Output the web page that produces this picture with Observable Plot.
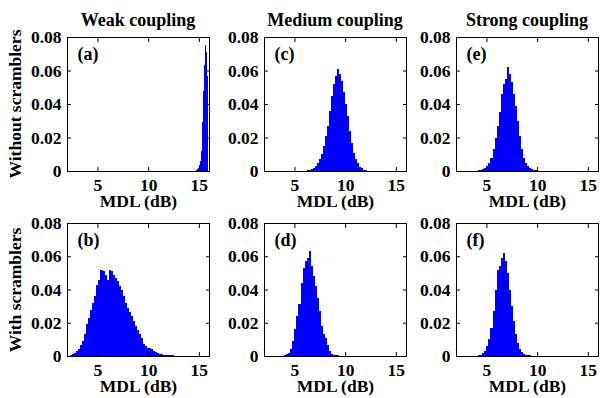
<!DOCTYPE html>
<html>
<head>
<meta charset="utf-8">
<script src="https://cdn.jsdelivr.net/npm/d3@7"></script>
<script src="https://cdn.jsdelivr.net/npm/@observablehq/plot@0.6"></script>
<style>
  html, body { margin: 0; padding: 0; background: #fff; }
  #chart { position: relative; width: 600px; height: 398px; overflow: hidden;
           font-family: "Liberation Serif", "Times New Roman", serif; font-weight: bold; color: #000; }
  .coltitle { position: absolute; text-align: center; font-size: 18px; line-height: 18px; white-space: nowrap; }
  .rowtitle { position: absolute; font-size: 17.5px; line-height: 18px; white-space: nowrap;
              transform: translate(-50%, -50%) rotate(-90deg); }
  #chart svg { position: absolute; }
</style>
</head>
<body>
<div id="chart"></div>
<script>
// ---------- data ----------
const columnTitles = ["Weak coupling", "Medium coupling", "Strong coupling"];
const rowTitles = ["Without scramblers", "With scramblers"];
const panelLetters = ["(a)", "(b)", "(c)", "(d)", "(e)", "(f)"];
const xLabel = "MDL (dB)";
const xTicks = [5, 10, 15];
const yTicks = [0, 0.02, 0.04, 0.06, 0.08];
const xDomain = [2, 16];
const yDomain = [0, 0.08];

// (a) weak coupling, without scramblers — bin edges (dB) and probabilities
const edgesA = [14.7, 14.8, 14.9, 15.0, 15.1, 15.2, 15.3, 15.4, 15.5, 15.6, 15.7, 15.8, 15.9];
const probA = [0.0005, 0.001, 0.002, 0.0035, 0.006, 0.012, 0.029, 0.048, 0.063, 0.075, 0.071, 0.057];

// (b) weak coupling, with scramblers
const edgesB = [2.3, 2.5, 2.7, 2.9, 3.1, 3.3, 3.5, 3.7, 3.9, 4.1, 4.3, 4.5, 4.7, 4.9, 5.1, 5.3, 5.5, 5.7, 5.9,
  6.1, 6.3, 6.5, 6.7, 6.9, 7.1, 7.3, 7.5, 7.7, 7.9, 8.1, 8.3, 8.5, 8.7, 8.9, 9.1, 9.3, 9.5, 9.7, 9.9, 10.1,
  10.3, 10.5, 10.7, 10.9, 11.1, 11.3, 11.5, 11.7, 11.9, 12.1, 12.3, 12.5, 12.7, 12.9, 13.1];
const probB = [0.0006, 0.001, 0.0018, 0.0028, 0.0044, 0.0068, 0.0089, 0.0135, 0.019, 0.023,
  0.0276, 0.032, 0.036, 0.043, 0.0457, 0.052, 0.051, 0.049, 0.046, 0.052,
  0.0514, 0.049, 0.047, 0.045, 0.042, 0.040, 0.036, 0.032, 0.029, 0.0266,
  0.024, 0.021, 0.018, 0.0155, 0.013, 0.011, 0.0075, 0.0058, 0.005, 0.0046,
  0.004, 0.003, 0.0024, 0.0018, 0.0014, 0.001, 0.0008, 0.0008, 0.0006, 0.0005,
  0.0004, 0.0003, 0.0002, 0.0001];

// (c) medium coupling, without scramblers
const edgesC = [6.2, 6.4, 6.6, 6.8, 7.0, 7.2, 7.4, 7.6, 7.8, 8.0, 8.2, 8.4, 8.6, 8.8, 9.0, 9.2, 9.4, 9.6,
  9.8, 10.0, 10.2, 10.4, 10.6, 10.8, 11.0, 11.2, 11.4, 11.6, 11.8, 12.0, 12.2, 12.4];
const probC = [0.0003, 0.0005, 0.001, 0.0015, 0.003, 0.0045, 0.007, 0.010, 0.015, 0.021, 0.027, 0.036,
  0.045, 0.052, 0.057, 0.061, 0.058, 0.054, 0.047, 0.040, 0.033, 0.024, 0.017, 0.011, 0.007, 0.0045,
  0.0025, 0.0015, 0.0008, 0.0004, 0.0002];

// (d) medium coupling, with scramblers
const edgesD = [3.6, 3.8, 4.0, 4.2, 4.4, 4.6, 4.8, 5.0, 5.2, 5.4, 5.6, 5.8, 6.0, 6.2, 6.4, 6.6, 6.8, 7.0,
  7.2, 7.4, 7.6, 7.8, 8.0, 8.2, 8.4, 8.6, 8.8, 9.0, 9.2, 9.4, 9.6, 9.8];
const probD = [0.0002, 0.0003, 0.0005, 0.001, 0.0018, 0.004, 0.009, 0.016, 0.024, 0.031, 0.044, 0.053,
  0.057, 0.059, 0.063, 0.054, 0.048, 0.042, 0.035, 0.027, 0.018, 0.013, 0.011, 0.0065, 0.003, 0.0015,
  0.0009, 0.0006, 0.0004, 0.0002, 0.0001];

// (e) strong coupling, without scramblers
const edgesE = [4.0, 4.2, 4.4, 4.6, 4.8, 5.0, 5.2, 5.4, 5.6, 5.8, 6.0, 6.2, 6.4, 6.6, 6.8, 7.0, 7.2, 7.4,
  7.6, 7.8, 8.0, 8.2, 8.4, 8.6, 8.8, 9.0, 9.2, 9.4, 9.6, 9.8, 10.0, 10.2];
const probE = [0.0002, 0.0004, 0.0007, 0.0012, 0.002, 0.003, 0.0048, 0.008, 0.013, 0.020, 0.027, 0.035,
  0.046, 0.052, 0.055, 0.062, 0.058, 0.053, 0.046, 0.039, 0.030, 0.021, 0.013, 0.008, 0.005, 0.003,
  0.0018, 0.001, 0.0006, 0.0003, 0.0001];

// (f) strong coupling, with scramblers
const edgesF = [4.0, 4.2, 4.4, 4.6, 4.8, 5.0, 5.2, 5.4, 5.6, 5.8, 6.0, 6.2, 6.4, 6.6, 6.8, 7.0, 7.2, 7.4,
  7.6, 7.8, 8.0, 8.2, 8.4, 8.6, 8.8, 9.0, 9.2, 9.4, 9.6, 9.8, 10.0];
const probF = [0.0002, 0.0005, 0.0009, 0.0018, 0.003, 0.006, 0.010, 0.017, 0.027, 0.040, 0.052, 0.054,
  0.059, 0.062, 0.057, 0.050, 0.040, 0.030, 0.021, 0.013, 0.008, 0.0045, 0.0025, 0.0014, 0.0009,
  0.0006, 0.0004, 0.0003, 0.0002, 0.0001];

// ---------- layout ----------
const colLefts = [67, 264, 456];
const rowTops = [37, 223];
const plotW = 142;
const plotHs = [134, 133];
const mL = 62, mR = 4, mT = 4, mB = 41;
const fontFamily = '"Liberation Serif", "Times New Roman", serif';

const panels = [
  {edges: edgesA, prob: probA, col: 0, row: 0, letter: panelLetters[0]},
  {edges: edgesB, prob: probB, col: 0, row: 1, letter: panelLetters[1]},
  {edges: edgesC, prob: probC, col: 1, row: 0, letter: panelLetters[2]},
  {edges: edgesD, prob: probD, col: 1, row: 1, letter: panelLetters[3]},
  {edges: edgesE, prob: probE, col: 2, row: 0, letter: panelLetters[4]},
  {edges: edgesF, prob: probF, col: 2, row: 1, letter: panelLetters[5]}
];

const chart = document.getElementById("chart");

for (const p of panels) {
  const bins = p.prob.map((y, i) => ({x1: p.edges[i], x2: p.edges[i + 1], y}));
  const h = plotHs[p.row];
  const svg = Plot.plot({
    width: plotW + mL + mR,
    height: h + mT + mB,
    marginLeft: mL, marginRight: mR, marginTop: mT, marginBottom: mB,
    x: {domain: xDomain},
    y: {domain: yDomain},
    style: {fontFamily, fontSize: "17.5px", fontWeight: "bold", background: "transparent", color: "black", overflow: "visible"},
    marks: [
      Plot.rectY(bins, {x1: "x1", x2: "x2", y: "y", fill: "#0000ff", inset: 0, shapeRendering: "crispEdges"}),
      Plot.frame({stroke: "black", strokeWidth: 1}),
      Plot.axisX(xTicks, {anchor: "bottom", tickSize: -4, tickPadding: 11, tickFormat: d => String(d),
        label: xLabel, labelAnchor: "center", labelOffset: 35, labelArrow: "none"}),
      Plot.axisX(xTicks, {anchor: "top", tickSize: -4, fill: "none", label: null}),
      Plot.axisY(yTicks, {anchor: "left", tickSize: -4, tickPadding: 10,
        tickFormat: d => d === 0 ? "0" : d.toFixed(2), label: null}),
      Plot.axisY(yTicks, {anchor: "right", tickSize: -4, fill: "none", label: null}),
      Plot.text([p.letter], {frameAnchor: "top-left", dx: 10, dy: 10, lineAnchor: "top", textAnchor: "start",
        text: d => d, fontSize: 18})
    ]
  });
  svg.style.left = (colLefts[p.col] - mL) + "px";
  svg.style.top = (rowTops[p.row] - mT) + "px";
  chart.appendChild(svg);
}

columnTitles.forEach((t, i) => {
  const d = document.createElement("div");
  d.className = "coltitle";
  d.textContent = t;
  d.style.left = colLefts[i] + "px";
  d.style.width = plotW + "px";
  d.style.top = "11px";
  chart.appendChild(d);
});

rowTitles.forEach((t, i) => {
  const d = document.createElement("div");
  d.className = "rowtitle";
  d.textContent = t;
  d.style.left = "15px";
  d.style.top = (rowTops[i] + plotHs[i] / 2) + "px";
  chart.appendChild(d);
});
</script>
</body>
</html>
